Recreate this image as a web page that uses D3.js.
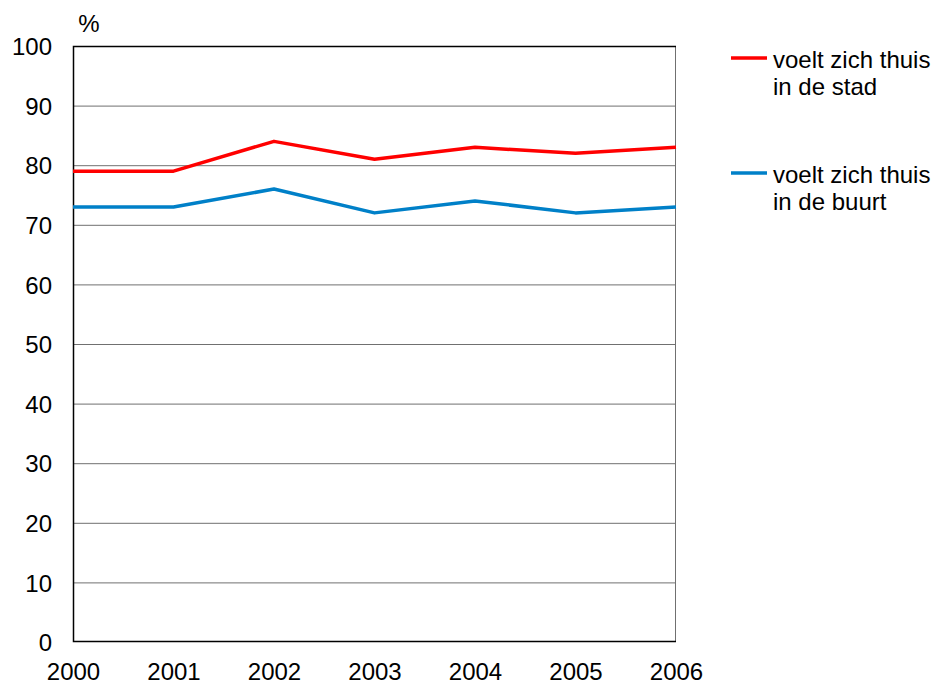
<!DOCTYPE html>
<html>
<head>
<meta charset="utf-8">
<script src="https://cdn.jsdelivr.net/npm/d3@7"></script>
<style>
  body { margin: 0; background: #fff; }
  text { font-family: "Liberation Sans", Arial, sans-serif; fill: #000; }
</style>
</head>
<body>
<script>
// Data
const years = [2000, 2001, 2002, 2003, 2004, 2005, 2006];
const stad = [79, 79, 84, 81, 83, 82, 83];
const buurt = [73, 73, 76, 72, 74, 72, 73];
const seriesNames = ["voelt zich thuis|in de stad", "voelt zich thuis|in de buurt"];
const seriesColors = ["#ff0000", "#0080c8"];
const yTicks = [0, 10, 20, 30, 40, 50, 60, 70, 80, 90, 100];

// Canvas setup:
const width = 937, height = 682;
const plotLeft = 73, plotRight = 676, plotTop = 46, plotBottom = 642;
const fontSize = "24px";

const svg = d3.select("body").append("svg")
  .attr("width", width)
  .attr("height", height);

const x = d3.scaleLinear().domain([2000, 2006]).range([plotLeft, plotRight]);
const y = d3.scaleLinear().domain([0, 100]).range([plotBottom, plotTop]);

// Gridlines:
svg.append("g")
  .selectAll("line")
  .data(yTicks.filter((d) => d > 0 && d < 100))
  .join("line")
  .attr("x1", plotLeft)
  .attr("x2", plotRight)
  .attr("y1", (d) => y(d) + 0.5)
  .attr("y2", (d) => y(d) + 0.5)
  .attr("stroke", "#707070")
  .attr("stroke-width", 1);

// Frame:
svg.append("line")
  .attr("x1", plotRight - 0.5).attr("x2", plotRight - 0.5)
  .attr("y1", plotTop).attr("y2", plotBottom)
  .attr("stroke", "#707070");
svg.append("path")
  .attr("d", `M${plotRight},${plotTop + 0.5}H${plotLeft + 0.5}V${plotBottom - 0.5}H${plotRight}`)
  .attr("fill", "none")
  .attr("stroke", "#000")
  .attr("stroke-width", 1.5);

// Y axis labels:
const yAxis = d3.axisLeft(y).tickValues(yTicks).tickSize(0).tickPadding(21);
svg.append("g")
  .attr("transform", `translate(${plotLeft},0)`)
  .call(yAxis)
  .call((g) => g.select(".domain").remove())
  .call((g) => g.selectAll("text")
    .style("font-size", fontSize)
    .attr("dy", "0.36em"));

// X axis labels:
const xAxis = d3.axisBottom(x).tickValues(years).tickFormat(d3.format("d")).tickSize(0).tickPadding(21);
svg.append("g")
  .attr("transform", `translate(0,${plotBottom})`)
  .call(xAxis)
  .call((g) => g.select(".domain").remove())
  .call((g) => g.selectAll("text")
    .style("font-size", fontSize));

// Unit label:
svg.append("text")
  .attr("x", 89)
  .attr("y", 32)
  .attr("text-anchor", "middle")
  .style("font-size", fontSize)
  .text("%");

// Lines:
const line = d3.line()
  .x((d, i) => x(years[i]))
  .y((d) => y(d));

[stad, buurt].forEach((s, k) => {
  svg.append("path")
    .datum(s)
    .attr("d", line)
    .attr("fill", "none")
    .attr("stroke", seriesColors[k])
    .attr("stroke-width", 3.5)
    .attr("stroke-linejoin", "round");
});

// Legend:
const legendY = [58, 173];
seriesNames.forEach((name, k) => {
  const g = svg.append("g").attr("transform", `translate(731,${legendY[k]})`);
  g.append("line")
    .attr("x1", 0).attr("x2", 36)
    .attr("stroke", seriesColors[k])
    .attr("stroke-width", 3.5);
  name.split("|").forEach((t, j) => {
    g.append("text")
      .attr("x", 42)
      .attr("y", 10 + j * 27)
      .style("font-size", fontSize)
      .text(t);
  });
});
</script>
</body>
</html>
